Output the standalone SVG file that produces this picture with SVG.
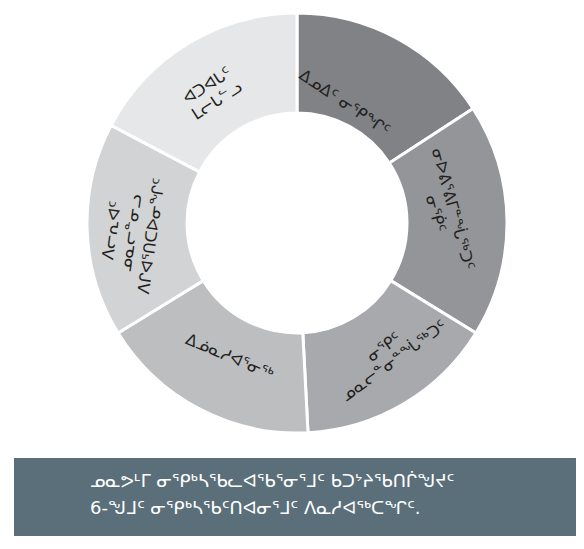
<svg xmlns="http://www.w3.org/2000/svg" width="584" height="549" viewBox="0 0 584 549">
<style>
.seg{stroke:#ffffff;stroke-width:3;stroke-linejoin:miter}
.lbl{font-family:"DejaVu Sans",sans-serif;font-size:16px;fill:#231f20;text-anchor:middle}
.cap{font-family:"DejaVu Sans",sans-serif;font-size:18px;fill:#ffffff}
</style>
<rect width="584" height="549" fill="#ffffff"/>
<g id="ring">
<path id="seg-country" class="seg" fill="#808285" d="M297,13 A210,210 0 0 1 473.1,108.6 L389.3,163.1 A110,110 0 0 0 297,113 Z"/>
<path id="seg-store" class="seg" fill="#939598" d="M473.1,108.6 A210,210 0 0 1 475.9,333 L390.7,280.6 A110,110 0 0 0 389.3,163.1 Z"/>
<path id="seg-local" class="seg" fill="#a7a9ac" d="M475.9,333 A210,210 0 0 1 308,432.7 L302.8,332.8 A110,110 0 0 0 390.7,280.6 Z"/>
<path id="seg-skills" class="seg" fill="#bcbec0" d="M308,432.7 A210,210 0 0 1 118.1,333 L203.3,280.6 A110,110 0 0 0 302.8,332.8 Z"/>
<path id="seg-programs" class="seg" fill="#d1d3d4" d="M118.1,333 A210,210 0 0 1 111.1,125.4 L199.6,171.9 A110,110 0 0 0 203.3,280.6 Z"/>
<path id="seg-policy" class="seg" fill="#e6e7e8" d="M111.1,125.4 A210,210 0 0 1 297,13 L297,113 A110,110 0 0 0 199.6,171.9 Z"/>
</g>
<g id="label-country" transform="translate(345,102) rotate(34)"><text class="lbl" y="6">ᐃᓄᐃᑦ ᓂᕿᖏᑦ</text></g>
<g id="label-store" transform="translate(445,211) rotate(75)"><text class="lbl" y="-3">ᓂᐅᕕᕐᕕᒥᓐᖔᖅᑐᑦ</text><text class="lbl" y="15">ᓂᖀᑦ</text></g>
<g id="label-local" transform="translate(388,353) rotate(-36)"><text class="lbl" y="-2">ᓂᕿᑦ</text><text class="lbl" y="15">ᓄᓇᓕᓐᓂᓐᖔᖅᑐᑦ</text></g>
<g id="label-skills" transform="translate(230,356) rotate(23)"><text class="lbl" y="6">ᐃᓅᓇᓱᐊᕐᓂᖅ</text></g>
<g id="label-programs" transform="translate(130,233) rotate(-82)"><text class="lbl" y="-13">ᐱᓕᕆᐊᑦ</text><text class="lbl" y="6">ᓄᓇᓕᓐᓂᓗ</text><text class="lbl" y="27">ᐱᒋᐊᕐᑎᑕᐅᓂᖏᑦ</text></g>
<g id="label-policy" transform="translate(211.5,92.5) rotate(-33)"><text class="lbl" y="-3">ᐊᑐᐊᒐᑦ</text><text class="lbl" y="15">ᒪᓕᒐᓪᓗ</text></g>
<g id="caption">
<rect x="14" y="458" width="562" height="78" fill="#5b6f7a"/>
<text class="cap" x="90" y="487">ᓄᓇᕗᒻᒥ ᓂᕿᒃᓴᖃᓚᐊᖃᕐᓂᕐᒧᑦ ᑲᑐᔾᔨᖃᑎᒌᖑᔪᑦ</text>
<text class="cap" x="90" y="514">6-ᖑᒧᑦ ᓂᕿᒃᓴᖃᑦᑎᐊᓂᕐᒧᑦ ᐱᓇᓱᐊᖅᑕᖏᑦ.</text>
</g>
</svg>
